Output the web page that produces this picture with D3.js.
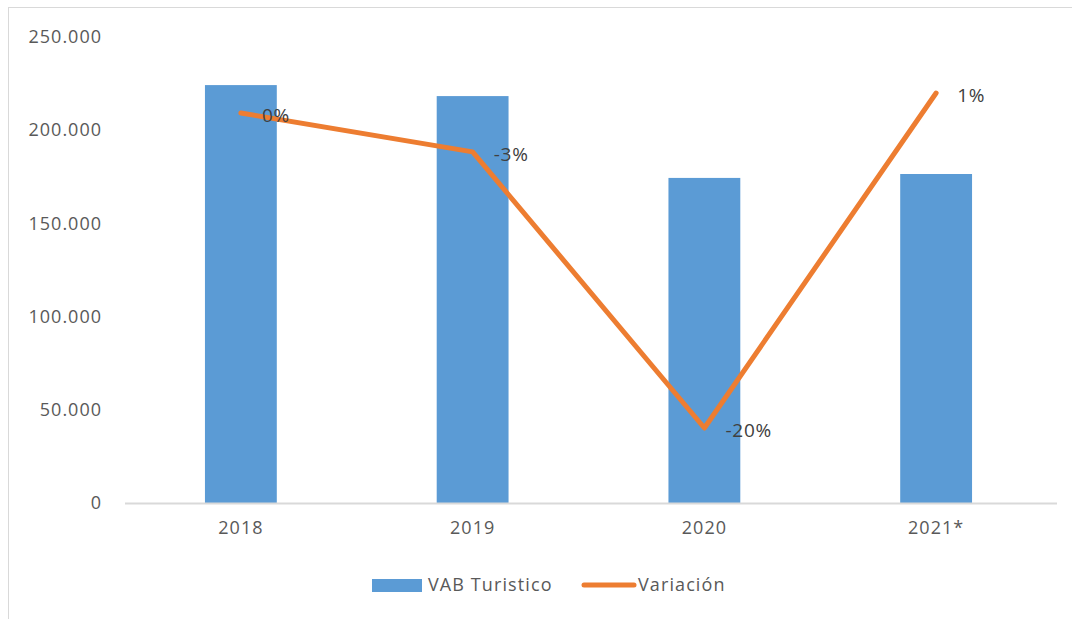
<!DOCTYPE html>
<html>
<head>
<meta charset="utf-8">
<script src="https://cdn.jsdelivr.net/npm/d3@7"></script>
<style>
  body { margin: 0; background: #fff; }
  text { font-family: "Open Sans", sans-serif; fill: #595959; }
</style>
</head>
<body>
<div id="chart"></div>
<script>
// data
var years = ["2018", "2019", "2020", "2021*"];
var vab = [224200, 218300, 174400, 176500];
var variacion = [-0.0026, -0.027, -0.200, 0.0099];
var varLabels = ["0%", "-3%", "-20%", "1%"];
var yTicks = [0, 50000, 100000, 150000, 200000, 250000];

var width = 1072,
    height = 619;

var svg = d3.select("#chart")
    .append("svg")
    .attr("width", width)
    .attr("height", height);

// outer frame (top and left edges visible)
svg.append("line")
    .attr("x1", 8).attr("x2", width).attr("y1", 7.5).attr("y2", 7.5)
    .attr("stroke", "#d9d9d9");
svg.append("line")
    .attr("x1", 8.5).attr("x2", 8.5).attr("y1", 7).attr("y2", height)
    .attr("stroke", "#d9d9d9");

var x = d3.scaleBand()
    .domain(years)
    .range([125, 1052])
    .paddingInner(0.69)
    .paddingOuter(0.345);

var y = d3.scaleLinear()
    .domain([0, 250000])
    .range([503, 37]);

// hidden secondary axis for the variation line
var y2 = d3.scaleLinear()
    .domain([-0.247, 0.045])
    .range([503, 37]);

var fmt = function(d) { return d3.format(",")(d).replace(/,/g, "."); };

// y axis labels, no line
var yAxis = svg.append("g")
    .attr("transform", "translate(102,0)")
    .call(d3.axisLeft(y).tickValues(yTicks).tickSize(0).tickPadding(0).tickFormat(fmt));
yAxis.select(".domain").remove();
yAxis.selectAll("text")
    .style("font-size", "18px")
    .style("letter-spacing", "1px")
    .style("fill", "#595959")
    .style("font-family", "'Open Sans', sans-serif");

// bars
svg.append("g")
    .selectAll("rect")
    .data(vab)
    .enter().append("rect")
    .attr("x", function(d, i) { return x(years[i]); })
    .attr("y", function(d) { return y(d); })
    .attr("width", x.bandwidth())
    .attr("height", function(d) { return y(0) - y(d); })
    .attr("fill", "#5b9bd5");

// baseline
svg.append("line")
    .attr("x1", 125).attr("x2", 1057)
    .attr("y1", y(0) + 0.5).attr("y2", y(0) + 0.5)
    .attr("stroke", "#d9d9d9")
    .attr("stroke-width", 2);

// x labels
var xAxis = svg.append("g")
    .attr("transform", "translate(0," + y(0) + ")")
    .call(d3.axisBottom(x).tickSize(0).tickPadding(18));
xAxis.select(".domain").remove();
xAxis.selectAll("text")
    .style("font-size", "18px")
    .style("letter-spacing", "1px")
    .style("fill", "#595959")
    .style("font-family", "'Open Sans', sans-serif");

// variation line
var line = d3.line()
    .x(function(d, i) { return x(years[i]) + x.bandwidth() / 2; })
    .y(function(d) { return y2(d); });

svg.append("path")
    .datum(variacion)
    .attr("d", line)
    .attr("fill", "none")
    .attr("stroke", "#ed7d31")
    .attr("stroke-width", 5)
    .attr("stroke-linecap", "round")
    .attr("stroke-linejoin", "round");

svg.append("g")
    .selectAll("text")
    .data(variacion)
    .enter().append("text")
    .attr("x", function(d, i) { return x(years[i]) + x.bandwidth() / 2 + 21; })
    .attr("y", function(d) { return y2(d) + 2; })
    .attr("dy", "0.35em")
    .style("font-size", "19px")
    .style("letter-spacing", "0.8px")
    .style("fill", "#404040")
    .text(function(d, i) { return varLabels[i]; });

// legend
var legend = svg.append("g");
legend.append("rect")
    .attr("x", 372).attr("y", 579)
    .attr("width", 50).attr("height", 13)
    .attr("fill", "#5b9bd5");
legend.append("text")
    .attr("x", 428).attr("y", 585).attr("dy", "0.35em")
    .style("font-size", "18px")
    .style("letter-spacing", "1.1px")
    .text("VAB Turistico");
legend.append("line")
    .attr("x1", 584).attr("x2", 634).attr("y1", 585).attr("y2", 585)
    .attr("stroke", "#ed7d31")
    .attr("stroke-width", 5)
    .attr("stroke-linecap", "round");
legend.append("text")
    .attr("x", 638).attr("y", 585).attr("dy", "0.35em")
    .style("font-size", "18px")
    .style("letter-spacing", "1.1px")
    .text("Variación");
</script>
</body>
</html>
